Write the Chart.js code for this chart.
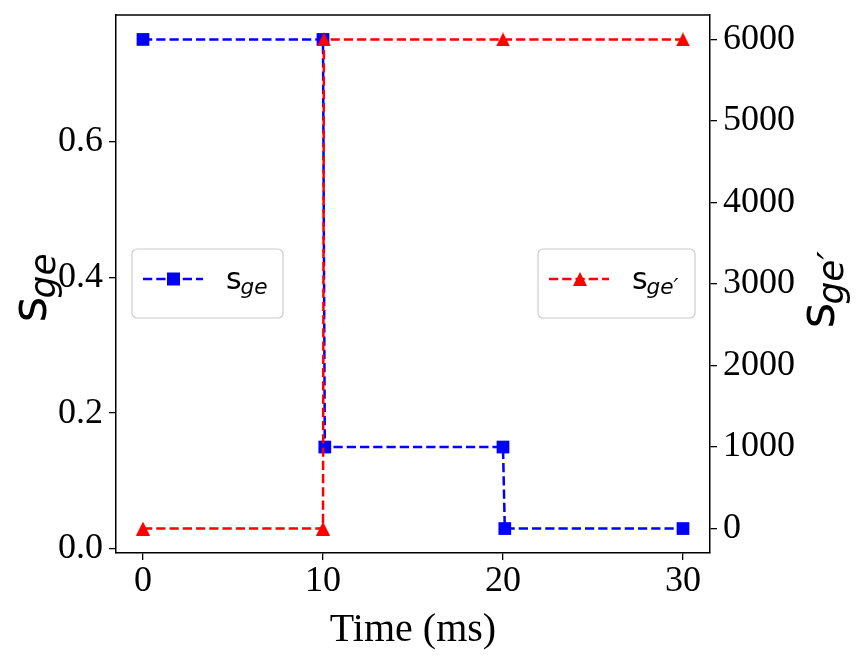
<!DOCTYPE html>
<html>
<head>
<meta charset="utf-8">
<script src="https://cdn.jsdelivr.net/npm/chart.js@4.4.1/dist/chart.umd.min.js"></script>
<style>
  html, body { margin: 0; padding: 0; background: #fff; }
  #chart { display: block; }
</style>
</head>
<body>
<canvas id="chart" width="856" height="665"></canvas>
<script>
// data
const timeBlue = [0, 10, 10.1, 20, 20.1, 30];
const sge      = [0.75, 0.75, 0.15, 0.15, 0.03, 0.03];
const timeRed  = [0, 10, 10.05, 20, 30];
const sgePrime = [0, 0, 6000, 6000, 6000];

const xTicks     = [0, 10, 20, 30];
const leftTicks  = [0, 0.2, 0.4, 0.6];
const rightTicks = [0, 1000, 2000, 3000, 4000, 5000, 6000];

const BLUE = '#0000ff';
const RED  = '#ff0000';
const DASH = [9.25, 4];
const tickFont = { family: '"Liberation Serif", serif', size: 36 };

// marker ^ like matplotlib (same width and height)
function triangleMarker(size, color) {
  const c = document.createElement('canvas');
  c.width = size; c.height = size;
  const g = c.getContext('2d');
  g.fillStyle = color;
  g.beginPath();
  g.moveTo(size / 2, 0);
  g.lineTo(size, size);
  g.lineTo(0, size);
  g.closePath();
  g.fill();
  return c;
}
const triangle = triangleMarker(14, RED);

function toPoints(xs, ys) {
  return xs.map((x, i) => ({ x, y: ys[i] }));
}

// text with subscript, returns width
function subText(ctx, x, y, main, sub, size, draw = true) {
  ctx.font = `${size}px "DejaVu Sans"`;
  const w1 = ctx.measureText(main).width;
  if (draw) ctx.fillText(main, x, y);
  ctx.font = `italic ${size * 0.72}px "DejaVu Sans"`;
  const w2 = ctx.measureText(sub).width;
  if (draw) ctx.fillText(sub, x + w1 - size * 0.04, y + size * 0.18);
  return w1 + w2;
}

function legendBox(ctx, x, y, w, h, color, marker, sub) {
  ctx.save();
  ctx.fillStyle = 'rgba(255,255,255,0.8)';
  ctx.strokeStyle = '#cccccc';
  ctx.lineWidth = 1.2;
  ctx.beginPath();
  ctx.roundRect(x, y, w, h, 5);
  ctx.fill();
  ctx.stroke();

  const ly = y + 30;
  ctx.strokeStyle = color;
  ctx.lineWidth = 2.5;
  ctx.setLineDash(DASH);
  ctx.beginPath();
  ctx.moveTo(x + 11, ly);
  ctx.lineTo(x + 71, ly);
  ctx.stroke();
  ctx.setLineDash([]);
  ctx.fillStyle = color;
  if (marker === 'rect') ctx.fillRect(x + 35, ly - 6.5, 13, 13);
  else ctx.drawImage(triangle, x + 35, ly - 7);

  ctx.fillStyle = '#000';
  ctx.textBaseline = 'alphabetic';
  subText(ctx, x + 94, ly + 10, 's', sub, 30);
  ctx.restore();
}

function axisTitle(ctx, cx, cy, sub) {
  ctx.save();
  ctx.translate(cx, cy);
  ctx.rotate(-Math.PI / 2);
  ctx.fillStyle = '#000';
  ctx.textBaseline = 'alphabetic';
  const w = subText(ctx, 0, 0, 's', sub, 50, false);
  subText(ctx, -w / 2, 0, 's', sub, 50);
  ctx.restore();
}

// frame top, axis titles and legends
const decor = {
  id: 'decor',
  afterDraw(chart) {
    const { ctx, chartArea: a } = chart;
    ctx.save();
    ctx.strokeStyle = '#000';
    ctx.lineWidth = 1.5;
    ctx.beginPath();
    ctx.moveTo(a.left, a.top);
    ctx.lineTo(a.right, a.top);
    ctx.stroke();
    ctx.restore();

    axisTitle(ctx, 46, 287, 'ge');
    axisTitle(ctx, 834, 289, 'ge\u2032');

    legendBox(ctx, 132, 249, 151, 69, BLUE, 'rect', 'ge');
    legendBox(ctx, 538, 249, 157, 69, RED, 'tri', 'ge\u2032');
  }
};

const axisLook = {
  grid: { drawOnChartArea: false, drawTicks: true, tickLength: 7, color: '#000', lineWidth: 1.3 },
  border: { display: true, color: '#000', width: 1.5 }
};

// fixed box sizes so the plot area matches the reference
function fixSize(prop, value) {
  return s => {
    s[prop] = value;
    s.paddingTop = 0;
    s.paddingBottom = 0;
    s.paddingLeft = 0;
    s.paddingRight = 0;
  };
}

new Chart(document.getElementById('chart'), {
  type: 'line',
  data: {
    datasets: [
      {
        label: 'sge',
        data: toPoints(timeBlue, sge),
        yAxisID: 'y',
        borderColor: BLUE,
        backgroundColor: BLUE,
        borderDash: DASH,
        borderWidth: 2.5,
        pointStyle: 'rect',
        pointRadius: 9,
        pointBorderWidth: 0,
        order: 2
      },
      {
        label: "sge'",
        data: toPoints(timeRed, sgePrime),
        yAxisID: 'y1',
        borderColor: RED,
        backgroundColor: RED,
        borderDash: DASH,
        borderWidth: 2.5,
        pointStyle: triangle,
        pointRadius: 7,
        order: 1
      }
    ]
  },
  options: {
    responsive: false,
    animation: false,
    layout: { padding: { top: 15, left: 0, right: 0, bottom: 0 } },
    plugins: { legend: { display: false }, tooltip: { enabled: false } },
    scales: {
      x: {
        type: 'linear',
        position: 'bottom',
        min: -1.5,
        max: 31.5,
        ...axisLook,
        afterBuildTicks: s => { s.ticks = xTicks.map(v => ({ value: v })); },
        afterFit: fixSize('height', 112),
        ticks: { font: tickFont, color: '#000', padding: 0, maxRotation: 0 },
        title: {
          display: true,
          text: 'Time (ms)',
          color: '#000',
          font: { family: '"Liberation Serif", serif', size: 40 },
          padding: { top: 0, bottom: 11 }
        }
      },
      y: {
        type: 'linear',
        position: 'left',
        min: -0.006,
        max: 0.786,
        ...axisLook,
        afterBuildTicks: s => { s.ticks = leftTicks.map(v => ({ value: v })); },
        afterFit: fixSize('width', 116),
        ticks: { font: tickFont, color: '#000', padding: 6, callback: v => v.toFixed(1) }
      },
      y1: {
        type: 'linear',
        position: 'right',
        min: -300,
        max: 6300,
        ...axisLook,
        afterBuildTicks: s => { s.ticks = rightTicks.map(v => ({ value: v })); },
        afterFit: fixSize('width', 146),
        ticks: { font: tickFont, color: '#000', padding: 6, callback: v => String(v) }
      }
    }
  },
  plugins: [decor]
});
</script>
</body>
</html>
